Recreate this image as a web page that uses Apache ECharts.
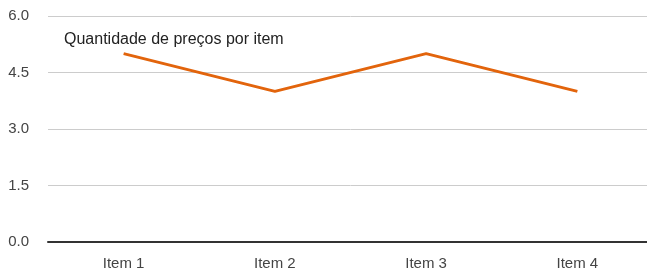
<!DOCTYPE html>
<html>
<head>
<meta charset="utf-8">
<script src="https://cdn.jsdelivr.net/npm/echarts@6/dist/echarts.min.js"></script>
<style>
  html, body { margin: 0; padding: 0; background: #fff; overflow: hidden; }
  /* a bit wider than the window so the last category band can run past the edge */
  #chart { width: 654px; height: 271px; }
</style>
</head>
<body>
<div id="chart"></div>
<script>
const categories = ['Item 1', 'Item 2', 'Item 3', 'Item 4']
const precos = [5, 4, 5, 4]
const chartTitle = 'Quantidade de preços por item'

const FONT = 'Liberation Sans, Arial, sans-serif'

let chart = echarts.init(document.getElementById('chart'))

let opts = {
  animation: false,
  title: {
    text: chartTitle,
    left: 59,
    top: 27,
    textStyle: {
      fontFamily: FONT,
      fontSize: 16,
      fontWeight: 'normal',
      color: '#222'
    }
  },
  grid: { left: 48, top: 16, width: 605, height: 227 },
  xAxis: {
    type: 'category',
    data: categories,
    boundaryGap: true,
    axisTick: { show: false },
    axisLine: { lineStyle: { color: '#333', width: 2 } },
    axisLabel: {
      color: '#444',
      fontFamily: FONT,
      fontSize: 15,
      margin: 14
    }
  },
  yAxis: {
    type: 'value',
    min: 0,
    max: 6,
    interval: 1.5,
    axisLine: { show: false },
    axisTick: { show: false },
    splitLine: { lineStyle: { color: '#ccc', width: 1 } },
    axisLabel: {
      color: '#444',
      fontFamily: FONT,
      fontSize: 15,
      margin: 19,
      formatter: v => v.toFixed(1)
    }
  },
  series: [
    {
      type: 'line',
      data: precos,
      symbol: 'none',
      lineStyle: { color: '#e2640c', width: 3 }
    }
  ]
}

chart.setOption(opts)
</script>
</body>
</html>
